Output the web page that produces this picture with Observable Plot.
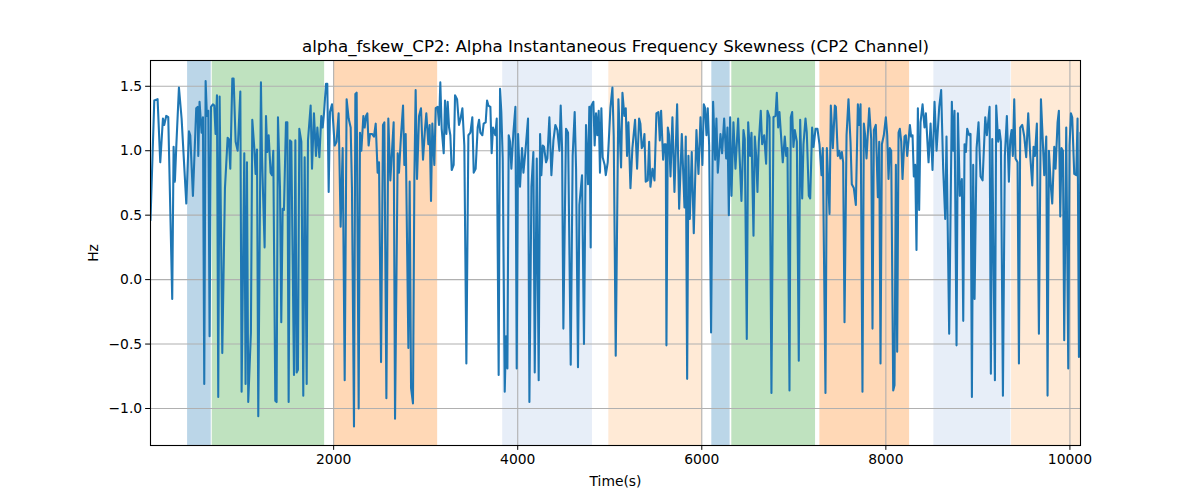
<!DOCTYPE html>
<html>
<head>
<meta charset="utf-8">
<script src="https://cdn.jsdelivr.net/npm/d3@7"></script>
<script src="https://cdn.jsdelivr.net/npm/@observablehq/plot@0.6"></script>
<style>
html, body { margin: 0; padding: 0; background: white; }
</style>
</head>
<body>
<div id="chart"></div>
<script>
const titleText = "alpha_fskew_CP2: Alpha Instantaneous Frequency Skewness (CP2 Channel)";
const xLabel = "Time(s)";
const yLabel = "Hz";
const xTicks = [2000, 4000, 6000, 8000, 10000];
const yTicks = [-1.0, -0.5, 0.0, 0.5, 1.0, 1.5];

const times = [10,51,87,116,145,159,181,203,246,261,275,290,319,348,399,428,442,471,507,522,529,543,565,580,594,609,623,638,652,667,688,703,717,732,746,761,790,819,848,862,877,899,913,935,957,986,1000,1029,1043,1058,1072,1101,1116,1138,1152,1167,1181,1210,
1221,1250,1265,1279,1294,1315,1330,1344,1366,1380,1395,1417,1431,1446,1460,1482,1497,1511,1526,1540,1569,1584,1598,1612,1627,1649,1670,1685,1707,1721,1750,1765,1786,1808,1823,1845,1866,1881,1895,1917,1931,1946,1960,1982,1996,2011,2032,2054,2076,2098,2120,2141,2163,2185,2199,2221,2236,2250,2272,2286,2301,2323,2337,2352,2366,2380,2395,2417,2438,
2457,2478,2493,2515,2536,2551,2573,2594,2616,2631,2652,2667,2696,2710,2732,2754,2768,2783,2812,2826,2841,2862,2877,2891,2906,2928,2949,2971,2993,3007,3029,3043,3058,3072,3094,3109,3130,3145,3159,3174,3196,3210,3225,3239,3254,3268,3283,3304,3319,3341,3362,3377,3399,3420,3442,3464,3486,3507,3522,3543,3565,3580,3594,3616,3630,3652,3667,3681,3703,3717,3732,
3736,3757,3772,3793,3808,3822,3837,3859,3873,3888,3902,3917,3931,3953,3975,3989,4004,4025,4047,4062,4083,4112,4127,4149,4170,4185,4207,4228,4243,4257,4272,4286,4308,4322,4344,4366,4388,4409,4431,4453,4467,4482,4496,4525,4547,4576,4597,4619,4634,4655,4670,4699,4720,4742,4764,4778,4793,4800,4822,4836,4851,4865,4880,4894,4909,4923,4945,
4957,4978,5007,5029,5043,5065,5094,5123,5138,5159,5174,5188,5203,5225,5246,5275,5297,5319,5333,5348,5362,5377,5391,5413,5428,5442,5464,5486,5507,5529,5544,5558,5580,5594,5609,5616,5631,5645,5660,5681,5703,5732,5754,5783,5812,5826,5841,5855,5870,5891,5913,5942,5964,5986,6007,6022,6036,6051,6065,6080,6101,6123,6145,6159,6174,6203,
6221,6243,6265,6279,6294,6308,6323,6344,6366,6395,6409,6431,6453,6467,6489,6504,6525,6540,6562,6576,6591,6605,6620,6641,6656,6678,6699,6714,6736,6757,6779,6801,6815,6830,6844,6859,6880,6902,6917,6931,6953,6967,6982,6996,7011,7033,7054,7069,7091,7105,7127,7141,7163,7178,7199,7214,7236,7257,7279,7301,7315,7344,7359,7388,7402,7424,7446,
7457,7478,7493,7507,7522,7536,7551,7573,7594,7616,7630,7652,7674,7696,7710,7725,7746,7761,7775,7790,7819,7841,7855,7870,7891,7913,7928,7942,7957,7978,8000,8015,8029,8043,8058,8080,8094,8109,8123,8138,8152,8167,8181,8203,8217,8232,8261,8275,8290,8304,8319,8333,8348,8362,8377,8399,8420,8435,8464,8486,8507,8529,8551,8580,8601,8623,8645,8659,
8688,8717,8732,8746,8768,8783,8804,8826,8841,8855,8870,8884,8906,8920,8935,8949,8964,8986,9007,9029,9051,9080,
9098,9127,9141,9156,9185,9199,9221,9235,9250,9272,9293,9315,9337,9351,9366,9380,9395,9409,9431,9446,9460,9482,9504,9525,9547,9569,9591,9605,9620,9641,9663,9685,9699,9721,9743,9757,9772,9793,9808,9830,9844,9866,9880,9895,9909,9924,9938,9960,9982,9996,10011,10025,10047,10069,10083,10098,10115];

const values = [0.46,1.39,1.40,0.91,1.25,1.20,1.27,1.26,-0.15,1.03,0.76,1.03,1.49,1.25,0.59,1.15,1.12,0.65,1.33,1.34,0.96,1.38,1.14,1.26,-0.81,1.54,1.27,1.31,-0.44,1.34,1.36,1.35,1.13,1.43,-0.91,1.42,-0.57,0.71,1.10,1.09,0.86,1.56,1.56,1.07,1.00,1.46,-0.87,0.98,-0.81,0.91,-0.95,-0.41,1.24,1.02,0.82,1.01,-1.06,1.53,
0.96,0.25,1.27,0.99,1.12,0.83,0.81,1.00,-0.94,-0.95,1.26,0.71,-0.33,0.55,0.54,1.22,1.22,-0.95,1.08,1.07,-0.74,1.08,-0.72,-0.70,1.17,1.07,-0.90,0.95,-0.81,1.08,1.35,0.86,1.29,0.96,1.18,0.95,1.27,1.18,1.29,1.52,1.52,0.68,1.30,1.36,1.21,1.04,1.07,1.29,0.41,1.02,-0.78,1.40,1.25,1.18,0.71,-1.14,1.44,1.45,-1.00,1.14,1.00,1.27,1.18,1.27,1.29,1.04,1.13,1.13,1.11,
1.21,0.83,0.91,-0.64,1.20,1.22,-0.92,1.25,0.77,0.96,1.22,-1.08,0.98,0.83,1.12,1.35,0.89,1.13,-0.53,0.76,-0.84,-0.96,0.78,1.47,0.78,1.27,1.33,0.93,1.17,1.29,1.05,1.20,0.61,1.21,0.89,1.33,1.34,1.20,1.53,1.17,0.98,1.39,1.13,1.38,1.18,1.12,0.85,0.89,1.43,1.40,1.20,1.24,1.33,1.04,-0.65,1.12,1.14,1.26,0.83,0.86,1.18,1.24,1.14,1.12,1.21,1.22,1.39,1.35,1.34,0.98,1.18,
1.17,1.12,1.25,-0.74,1.48,1.30,0.94,-0.87,-0.44,-0.69,1.12,1.07,0.86,1.14,1.34,-0.69,1.13,0.72,1.02,0.83,0.99,1.25,-0.95,0.72,0.99,-0.72,0.94,-0.78,1.13,0.81,1.04,1.03,0.91,0.94,1.26,0.81,1.08,1.20,1.16,1.00,1.35,1.02,-0.38,1.17,1.14,-0.66,0.96,1.30,0.86,-0.68,0.58,0.81,-0.50,1.20,0.74,1.34,0.25,1.35,1.38,1.04,1.29,1.12,1.31,0.83,1.33,0.95,0.89,
0.81,0.91,1.33,1.49,1.12,-0.59,1.40,0.87,1.45,1.27,1.33,0.96,1.22,0.71,1.02,1.24,0.86,1.25,1.21,1.02,1.04,1.13,0.76,0.77,1.07,0.72,0.86,0.77,1.29,1.30,1.08,1.31,0.93,1.05,1.05,-0.51,1.18,1.12,0.80,1.26,0.68,1.36,0.55,1.13,0.56,1.11,-0.77,0.96,0.47,0.99,0.36,1.16,0.82,1.26,0.89,1.36,1.33,1.12,1.33,1.04,-0.41,1.38,0.93,1.25,0.83,1.13,
0.98,1.25,0.94,1.18,0.50,1.26,0.65,1.22,0.86,1.25,0.99,0.61,1.16,1.09,-0.46,1.22,0.96,1.14,0.34,1.11,0.96,0.68,1.07,1.31,1.05,1.12,0.90,1.31,1.26,-0.88,1.26,1.27,1.45,1.18,1.30,1.14,0.91,1.11,0.96,1.02,-0.86,1.26,1.30,1.03,1.16,1.07,-0.63,1.24,0.63,1.05,1.25,1.14,0.65,0.63,1.18,1.03,1.17,1.17,1.05,0.81,1.02,-0.88,1.02,0.51,1.35,1.02,1.35,
1.34,0.96,1.00,0.94,0.99,0.91,-0.33,1.12,1.40,1.07,0.74,0.71,0.58,1.36,1.20,1.36,-0.87,1.21,1.12,0.94,1.33,1.09,-0.38,1.16,1.20,0.64,1.07,-0.65,1.05,1.12,1.26,1.12,0.78,1.02,1.00,-0.86,-0.82,0.89,-0.56,1.14,1.17,1.07,0.78,1.11,1.12,0.96,1.20,1.11,1.12,0.80,0.89,0.23,1.33,0.54,1.22,1.36,1.18,1.29,0.91,1.21,0.85,1.38,1.00,1.34,1.47,0.86,0.47,1.11,
-0.42,1.38,1.00,1.31,-0.51,1.29,0.65,0.78,-0.32,1.05,0.99,1.17,1.12,1.13,-0.91,0.89,-0.15,1.02,1.22,0.80,0.77,1.26,
1.12,1.34,-0.73,1.09,-0.78,1.35,1.07,1.16,1.07,-0.90,0.96,1.27,0.76,1.08,1.16,0.96,1.40,0.94,0.91,-0.65,1.18,1.20,1.11,0.95,1.29,0.96,0.73,1.03,0.96,1.21,-0.42,1.40,1.18,0.81,1.11,-0.90,1.00,0.72,0.59,1.03,0.86,1.22,1.31,0.49,1.02,1.00,-0.47,1.18,-0.69,1.04,1.29,1.26,0.82,0.81,1.25,-0.60,1.14];

const spanStart = [413, 681, 2004, 3837, 4990, 6109, 6326, 7283, 8522, 9366];
const spanEnd   = [670, 1902, 3130, 4812, 6007, 6308, 7236, 8258, 9359, 10115];
const spanKind  = ["blue", "green", "orange", "lightblue", "lightorange", "blue", "green", "orange", "lightblue", "lightorange"];
const spanColors = {blue: "#1f77b4", green: "#2ca02c", orange: "#ff7f0e", lightblue: "#aec7e8", lightorange: "#ffbb78"};

const series = times.map((t, i) => ({t, v: values[i]}));
const spans = spanStart.map((s, i) => ({s, e: spanEnd[i], k: spanKind[i]}));

const chart = Plot.plot({
  width: 1200,
  height: 500,
  marginLeft: 150,
  marginRight: 120,
  marginTop: 60,
  marginBottom: 55,
  style: {fontFamily: "DejaVu Sans", fontSize: "13.89px", background: "white", color: "black"},
  x: {domain: [10, 10115]},
  y: {domain: [-1.287, 1.70]},
  marks: [
    Plot.rect(spans, {x1: "s", x2: "e", fill: d => spanColors[d.k], fillOpacity: 0.3}),
    Plot.gridX(xTicks, {stroke: "#b0b0b0", strokeOpacity: 1, strokeWidth: 1.1}),
    Plot.gridY(yTicks, {stroke: "#b0b0b0", strokeOpacity: 1, strokeWidth: 1.1}),
    Plot.line(series, {x: "t", y: "v", stroke: "#1f77b4", strokeWidth: 2.08, clip: true}),
    Plot.frame({stroke: "black", strokeWidth: 1.1}),
    Plot.axisX(xTicks, {tickSize: 4.86, tickPadding: 3.5, tickFormat: d3.format("d"), label: xLabel, labelAnchor: "center", labelArrow: "none", labelOffset: 40, fontSize: 13.89}),
    Plot.axisY(yTicks, {tickSize: 4.86, tickPadding: 3.5, tickFormat: d3.format(".1f"), label: yLabel, labelAnchor: "center", labelArrow: "none", labelOffset: 62, fontSize: 13.89}),
    Plot.text([titleText], {text: d => d, frameAnchor: "top", dy: -14, lineAnchor: "middle", fontSize: 16.67})
  ]
});
document.getElementById("chart").appendChild(chart);
</script>
</body>
</html>
